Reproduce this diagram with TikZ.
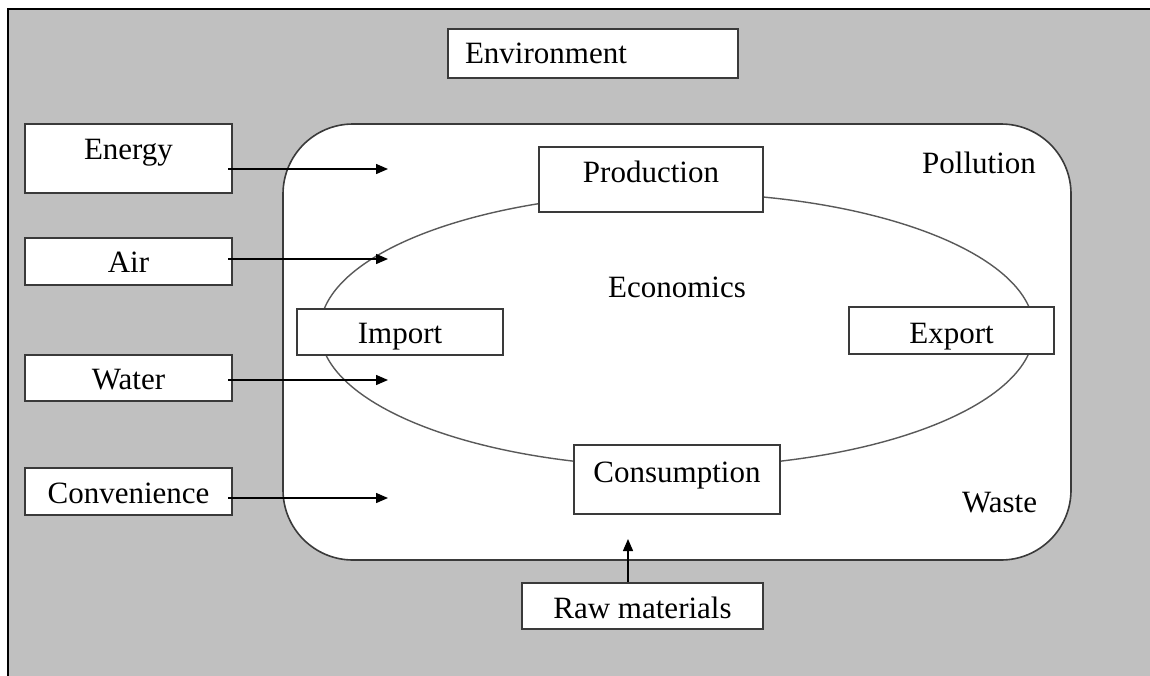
\documentclass[tikz,border=0pt]{standalone}
\usepackage{fontspec}
\setmainfont{Liberation Serif}
\usetikzlibrary{arrows.meta}
\definecolor{bggray}{HTML}{C0C0C0}
\definecolor{boxline}{HTML}{3A3A3A}
\begin{document}
\begin{tikzpicture}[x=0.5pt, y=-0.5pt,
    box/.style = {draw=boxline, fill=white, line width=1pt, inner sep=0pt, anchor=base, font=\fontsize{15.5}{18}\selectfont},
    word/.style = {inner sep=0pt, anchor=base, font=\fontsize{15.5}{18}\selectfont},
    flow/.style = {-{Triangle[length=6pt, width=5pt]}, line width=0.7pt}]
    \useasboundingbox (0,0) rectangle (1150,675);
    \clip (0,0) rectangle (1150,675);
    \fill[white] (0,0) rectangle (1150,675);
    % environment and economy
    \draw[fill=bggray, line width=1pt] (8,9) rectangle (1170,695);
    \draw[fill=white, draw=boxline, line width=0.8pt, rounded corners=35pt] (283,124) rectangle (1071,560);
    \draw[draw=black!65, line width=0.7pt] (677,330) ellipse [x radius=357, y radius=137];
    \node[box, text width=128pt, inner xsep=8.5pt, align=left, text height=17pt, text depth=7.5pt] (env) at (593,63) {Environment};
    \node[box, minimum width=103.5pt, text height=17.5pt, text depth=17pt] (energy) at (128.5,159) {Energy};
    \node[box, minimum width=103.5pt, text height=17pt, text depth=6.5pt] (air) at (128.5,272) {Air};
    \node[box, minimum width=103.5pt, text height=17pt, text depth=6pt] (water) at (128.5,389) {Water};
    \node[box, minimum width=103.5pt, text height=17.5pt, text depth=6pt] (conv) at (128.5,503) {Convenience};
    \node[box, minimum width=112pt, text height=17.5pt, text depth=15pt] (prod) at (651,182) {Production};
    \node[box, minimum width=103pt, text height=17pt, text depth=6pt] (import) at (400,343) {Import};
    \node[box, minimum width=102.5pt, text height=18pt, text depth=5.5pt] (export) at (951.5,343) {Export};
    \node[box, minimum width=103pt, text height=18.5pt, text depth=16pt] (cons) at (677,482) {Consumption};
    \node[box, minimum width=120.5pt, text height=17.5pt, text depth=5.5pt] (raw) at (642.5,618) {Raw materials};
    \node[word] (econ) at (677,297) {Economics};
    \node[word] (poll) at (979,173) {Pollution};
    \node[word] (waste) at (999.5,512) {Waste};
    \coordinate (energyIn) at (388,169);
    \coordinate (airIn) at (388,259);
    \coordinate (waterIn) at (388,380);
    \coordinate (convIn) at (388,498);
    \coordinate (rawIn) at (628,539);
    \draw[flow] ([xshift=-2.5pt]energy.east |- energyIn) -- (energyIn);
    \draw[flow] ([xshift=-2.5pt]air.east |- airIn) -- (airIn);
    \draw[flow] ([xshift=-2.5pt]water.east |- waterIn) -- (waterIn);
    \draw[flow] ([xshift=-2.5pt]conv.east |- convIn) -- (convIn);
    \draw[flow] (raw.north -| rawIn) -- (rawIn);
\end{tikzpicture}
\end{document}
